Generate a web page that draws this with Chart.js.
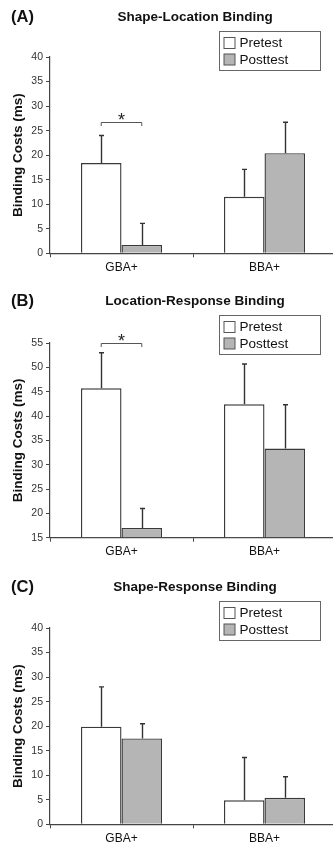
<!DOCTYPE html>
<html>
<head>
<meta charset="utf-8">
<script src="https://cdn.jsdelivr.net/npm/chart.js@4.4.0/dist/chart.umd.min.js"></script>
<style>
  html, body { margin: 0; padding: 0; background: #fff; overflow: hidden; }
  canvas { display: block; }
</style>
</head>
<body>
<canvas id="panelA" width="336" height="280"></canvas>
<canvas id="panelB" width="336" height="280"></canvas>
<canvas id="panelC" width="336" height="285"></canvas>
<script>
const groups = ['GBA+', 'BBA+'];
const seriesNames = ['Pretest', 'Posttest'];

// (A) Shape-Location Binding
const shapeLocPre = [18.4, 11.5];
const shapeLocPost = [1.7, 20.4];
const shapeLocPreErr = [5.6, 5.6];
const shapeLocPostErr = [4.4, 6.3];

// (B) Location-Response Binding
const locRespPre = [45.7, 42.4];
const locRespPost = [17.0, 33.3];
const locRespPreErr = [7.3, 8.3];
const locRespPostErr = [4.0, 9.0];

// (C) Shape-Response Binding
const shapeRespPre = [19.9, 4.9];
const shapeRespPost = [17.5, 5.4];
const shapeRespPreErr = [8.1, 8.7];
const shapeRespPostErr = [3.0, 4.3];

// y axis ranges (min, max), step 5
const yRangeA = [0, 40];
const yRangeB = [15, 55];
const yRangeC = [0, 40];

// significance brackets: group index and height (ms)
const sigA = { group: 0, level: 26.7 };
const sigB = { group: 0, level: 55.1 };

const FONT = '"Liberation Sans", Arial, sans-serif';

// panel letter, title and boxed legend
const panelDecor = {
  id: 'panelDecor',
  afterDraw(chart, args, opts) {
    const { ctx, chartArea } = chart;
    ctx.save();
    ctx.fillStyle = '#111';
    ctx.textBaseline = 'middle';
    ctx.textAlign = 'left';
    ctx.font = 'bold 16.5px ' + FONT;
    ctx.fillText(opts.letter, 11, opts.titleY);
    ctx.textAlign = 'center';
    ctx.font = 'bold 13.5px ' + FONT;
    ctx.fillText(opts.title, (chartArea.left + chartArea.right) / 2 + 2, opts.titleY);

    // legend box
    const bx = 219.5, by = opts.titleY + 14.5, bw = 101, bh = 39;
    ctx.strokeStyle = '#666';
    ctx.lineWidth = 1;
    ctx.fillStyle = '#fff';
    ctx.fillRect(bx, by, bw, bh);
    ctx.strokeRect(bx, by, bw, bh);
    ctx.font = '13.5px ' + FONT;
    ctx.textAlign = 'left';
    chart.data.datasets.forEach((ds, i) => {
      const cy = by + 11.5 + i * 16.5;
      ctx.fillStyle = ds.backgroundColor;
      ctx.fillRect(bx + 4.5, cy - 5.5, 11, 11);
      ctx.strokeStyle = '#555';
      ctx.strokeRect(bx + 4.5, cy - 5.5, 11, 11);
      ctx.fillStyle = '#111';
      ctx.fillText(ds.label, bx + 20, cy + 0.5);
    });
    ctx.restore();
  }
};

// upward error bars and significance bracket
const errorBars = {
  id: 'errorBars',
  afterDatasetsDraw(chart, args, opts) {
    const { ctx } = chart;
    const yScale = chart.scales.y;
    ctx.save();
    ctx.strokeStyle = '#333';
    ctx.lineWidth = 1.4;
    chart.data.datasets.forEach((ds, i) => {
      const meta = chart.getDatasetMeta(i);
      meta.data.forEach((bar, j) => {
        const top = yScale.getPixelForValue(ds.data[j] + ds.errors[j]);
        const x = Math.round(bar.x) + 0.5;
        ctx.beginPath();
        ctx.moveTo(x, bar.y);
        ctx.lineTo(x, top);
        ctx.moveTo(x - 2.5, top);
        ctx.lineTo(x + 2.5, top);
        ctx.stroke();
      });
    });

    if (opts.sig) {
      const g = opts.sig.group;
      const x1 = chart.getDatasetMeta(0).data[g].x;
      const x2 = chart.getDatasetMeta(1).data[g].x;
      const y = Math.round(yScale.getPixelForValue(opts.sig.level)) + 0.5;
      ctx.strokeStyle = '#555';
      ctx.lineWidth = 1;
      ctx.beginPath();
      ctx.moveTo(x1, y + 3.5);
      ctx.lineTo(x1, y);
      ctx.lineTo(x2, y);
      ctx.lineTo(x2, y + 3.5);
      ctx.stroke();
      ctx.fillStyle = '#222';
      ctx.font = '18px ' + FONT;
      ctx.textAlign = 'center';
      ctx.textBaseline = 'middle';
      ctx.fillText('*', (x1 + x2) / 2, y - 1);
    }
    ctx.restore();
  }
};

function makePanel(id, cfg) {
  const ctx = document.getElementById(id).getContext('2d');
  return new Chart(ctx, {
    type: 'bar',
    data: {
      labels: groups,
      datasets: [{
        label: seriesNames[0],
        data: cfg.pre,
        errors: cfg.preErr,
        backgroundColor: '#ffffff',
        borderColor: '#3a3a3a',
        borderWidth: 1.4,
        base: cfg.range[0],
        categoryPercentage: 0.567,
        barPercentage: 1.0
      }, {
        label: seriesNames[1],
        data: cfg.post,
        errors: cfg.postErr,
        backgroundColor: '#b5b5b5',
        borderColor: '#3a3a3a',
        borderWidth: 1.4,
        base: cfg.range[0],
        categoryPercentage: 0.567,
        barPercentage: 1.0
      }]
    },
    options: {
      responsive: false,
      animation: false,
      events: [],
      layout: { padding: { top: cfg.top, left: 0, right: 0, bottom: 0 } },
      plugins: {
        legend: { display: false },
        tooltip: { enabled: false },
        panelDecor: { letter: cfg.letter, title: cfg.title, titleY: cfg.titleY },
        errorBars: { sig: cfg.sig }
      },
      scales: {
        x: {
          offset: true,
          grid: { offset: true, drawOnChartArea: false, drawTicks: true, tickLength: 4, color: '#444' },
          border: { color: '#444', width: 1.2 },
          ticks: { color: '#111', font: { size: 12, family: FONT }, padding: 3 },
          afterFit: s => { s.height = cfg.xAxisH; }
        },
        y: {
          min: cfg.range[0],
          max: cfg.range[1],
          ticks: { stepSize: 5, color: '#333', font: { size: 10.5, family: FONT }, padding: 3 },
          grid: { drawOnChartArea: false, tickLength: 4, color: '#444' },
          border: { color: '#444', width: 1.2 },
          title: {
            display: true,
            text: 'Binding Costs (ms)',
            color: '#111',
            font: { size: 13.5, weight: 'bold', family: FONT },
            padding: { top: 10, bottom: 0 }
          },
          afterFit: s => { s.width = 50; }
        }
      }
    },
    plugins: [panelDecor, errorBars]
  });
}

makePanel('panelA', {
  letter: '(A)', title: 'Shape-Location Binding', titleY: 17, top: 57, xAxisH: 26.7,
  range: yRangeA, pre: shapeLocPre, post: shapeLocPost,
  preErr: shapeLocPreErr, postErr: shapeLocPostErr, sig: sigA
});

makePanel('panelB', {
  letter: '(B)', title: 'Location-Response Binding', titleY: 21, top: 63, xAxisH: 22.3,
  range: yRangeB, pre: locRespPre, post: locRespPost,
  preErr: locRespPreErr, postErr: locRespPostErr, sig: sigB
});

makePanel('panelC', {
  letter: '(C)', title: 'Shape-Response Binding', titleY: 27, top: 68, xAxisH: 20.7,
  range: yRangeC, pre: shapeRespPre, post: shapeRespPost,
  preErr: shapeRespPreErr, postErr: shapeRespPostErr, sig: null
});
</script>
</body>
</html>
